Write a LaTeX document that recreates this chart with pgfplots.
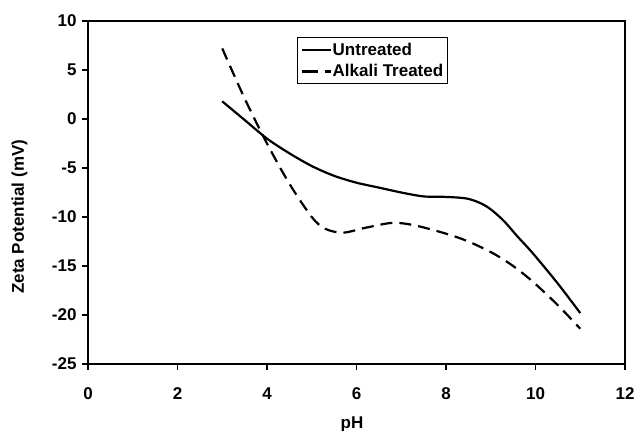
\documentclass[border=0pt]{standalone}
\usepackage{pgfplots}
\pgfplotsset{compat=1.18}
\usepackage{fontspec}
\setmainfont{Liberation Sans}
\begin{document}
\begin{tikzpicture}
\useasboundingbox (0,0) rectangle (635pt,431pt);
\begin{axis}[
  at={(88pt,67pt)}, anchor=south west,
  scale only axis, width=537pt, height=343pt,
  xmin=0, xmax=12, ymin=-25, ymax=10,
  xtick={0,2,...,12}, ytick={-25,-20,...,10},
  tick align=outside, xtick pos=bottom, ytick pos=left,
  major tick length=6pt,
  axis line style={line width=2pt},
  every tick/.style={line width=1.6pt, black},
  /pgf/number format/assume math mode=true,
  ticklabel style={font=\fontsize{17}{20}\selectfont\bfseries},
  xticklabel style={yshift=-14pt},
  yticklabel style={xshift=-2pt},
  xlabel={pH}, ylabel={Zeta Potential (mV)},
  label style={font=\fontsize{17}{20}\selectfont\bfseries},
  xlabel style={at={(axis description cs:0.4916,-0.175)}, anchor=center},
  ylabel style={at={(axis description cs:-0.1276,0.429)}, anchor=center, rotate=0},
  legend style={at={(axis description cs:0.389,0.953)}, anchor=north west,
    draw=black, line width=1.2pt, font=\fontsize{17}{20}\selectfont\bfseries,
    inner xsep=3pt, inner ysep=1pt, row sep=0pt,
    nodes={inner xsep=1pt, inner ysep=4pt},
    /tikz/every even column/.append style={column sep=0pt}},
  legend cell align=left,
]
\addplot[black, line width=2.2pt, smooth, tension=0.5,
  legend image code/.code={\draw[black, line width=2.2pt] (0pt,0pt) -- (29pt,0pt);}] coordinates {
(3,1.8) (3.5,-0.1) (4.0,-2.0) (4.5,-3.5) (5.0,-4.8) (5.5,-5.8) (6.0,-6.5)
(6.5,-7.0) (7.0,-7.5) (7.5,-7.9) (8.0,-7.95) (8.5,-8.15) (8.9,-8.9) (9.27,-10.3)
(9.6,-12.0) (9.94,-13.7) (10.5,-16.8) (11,-19.8)};
\addlegendentry{Untreated}
\addplot[black, line width=2.2pt, dash pattern=on 12pt off 7pt, smooth, tension=0.5,
  legend image code/.code={\draw[black, line width=2.2pt, dash pattern=on 16pt off 7pt] (0pt,0pt) -- (29pt,0pt);}] coordinates {
(3,7.2) (3.5,2.1) (4.0,-2.5) (4.5,-6.6) (5.0,-10.0) (5.3,-11.2) (5.7,-11.6)
(6.2,-11.1) (6.8,-10.6) (7.3,-10.85) (8.0,-11.7) (8.5,-12.5) (9.05,-13.7)
(9.5,-15.0) (9.94,-16.6) (10.5,-19.0) (11,-21.4)};
\addlegendentry{Alkali Treated\hspace{6pt}}
\end{axis}
\end{tikzpicture}
\end{document}
